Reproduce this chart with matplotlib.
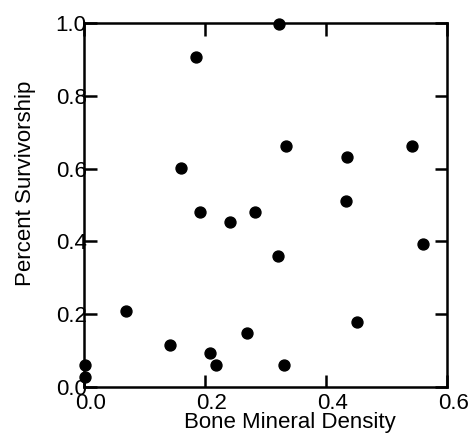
"""Scatter of percent survivorship against bone mineral density."""

import matplotlib
matplotlib.use("Agg")
import matplotlib.pyplot as plt
from matplotlib.transforms import ScaledTranslation

bone_density = [0.323, 0.185, 0.334, 0.434, 0.543, 0.161, 0.433, 0.192, 0.242, 0.283,
                0.320, 0.561, 0.069, 0.451, 0.142, 0.270, 0.209, 0.219, 0.331, 0.002, 0.002]
survivorship = [0.998, 0.907, 0.662, 0.631, 0.662, 0.601, 0.511, 0.480, 0.454, 0.482,
                0.361, 0.393, 0.210, 0.179, 0.117, 0.149, 0.093, 0.060, 0.060, 0.060, 0.028]
tick_values = [0.0, 0.2, 0.4, 0.6, 0.8, 1.0]
x_tick_values = [0.0, 0.2, 0.4, 0.6]

plt.rcParams["font.family"] = ["Liberation Sans", "DejaVu Sans"]

fig = plt.figure(figsize=(4.74, 4.40), dpi=100)
ax = fig.add_axes([0.177, 0.120, 0.766, 0.828])

ax.scatter(bone_density, survivorship, s=62, color="black", zorder=3, clip_on=False)

ax.set_xlim(0, 0.6)
ax.set_ylim(0, 1.0)
ax.set_xticks(x_tick_values)
ax.set_yticks(tick_values)
ax.set_xticklabels([f"{v:.1f}" for v in x_tick_values])
ax.set_yticklabels([f"{v:.1f}" for v in tick_values])

for spine in ax.spines.values():
    spine.set_linewidth(1.8)
ax.tick_params(direction="in", length=9, width=1.8, top=True, right=True,
               labelsize=16, color="black")
ax.tick_params(axis="y", pad=-2)
ax.tick_params(axis="x", pad=4)

# the scanned labels sit a little right of their ticks
shift = ScaledTranslation(5 / 72, 0, fig.dpi_scale_trans)
for lbl in ax.get_xticklabels():
    lbl.set_transform(lbl.get_transform() + shift)

ax.set_xlabel("Bone Mineral Density", fontsize=16, labelpad=-1)
ax.set_ylabel("Percent Survivorship", fontsize=16, labelpad=14)
ax.xaxis.label.set_x(0.566)
ax.yaxis.label.set_y(0.56)

fig.savefig("out.png", dpi=100)
